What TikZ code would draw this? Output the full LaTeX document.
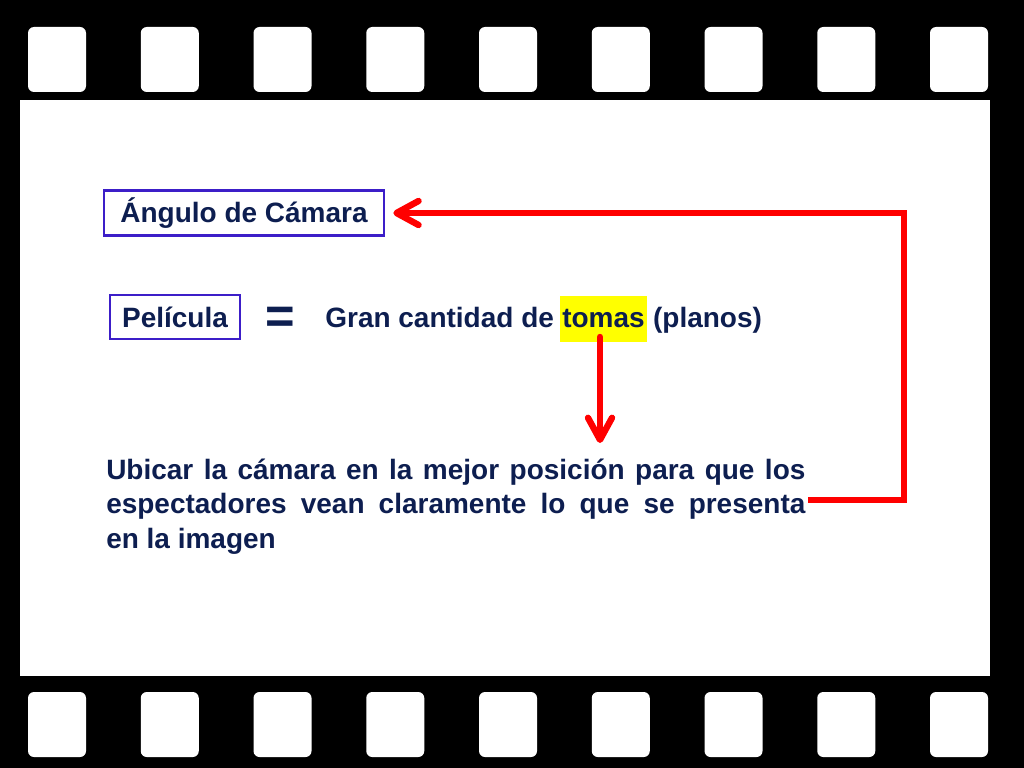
\documentclass[tikz,border=0pt]{standalone}
\usepackage{fontspec}
\setmainfont{Liberation Sans}
\usetikzlibrary{arrows.meta}

\definecolor{filmnavy}{RGB}{13,30,80}
\definecolor{boxblue}{RGB}{60,30,200}
\definecolor{markyellow}{RGB}{255,255,0}
\definecolor{arrowred}{RGB}{255,0,0}

\tikzset{
  slidefont/.style={font=\bfseries\fontsize{19.9}{24.8}\selectfont},
  labelbox/.style={draw=boxblue, line width=0.065cm, text=filmnavy, slidefont, inner sep=0pt},
  plaintext/.style={text=filmnavy, slidefont, inner sep=0pt},
  redarrow/.style={draw=arrowred, line width=0.16cm, line cap=round,
    -{Straight Barb[length=0.55cm, width=0.6cm, round, line width=0.16cm]}},
  hole/.style={fill=white, rounded corners=0.15cm},
}

\begin{document}
\begin{tikzpicture}[x=0.025cm, y=-0.025cm]

% Film strip background
\fill[black] (0,0) rectangle (1024,768);
\fill[white] (20,100) rectangle (990,676);

% Sprocket holes, top row
\fill[hole] (28.00,27) rectangle (86.00,92);
\fill[hole] (140.75,27) rectangle (198.75,92);
\fill[hole] (253.50,27) rectangle (311.50,92);
\fill[hole] (366.25,27) rectangle (424.25,92);
\fill[hole] (479.00,27) rectangle (537.00,92);
\fill[hole] (591.75,27) rectangle (649.75,92);
\fill[hole] (704.50,27) rectangle (762.50,92);
\fill[hole] (817.25,27) rectangle (875.25,92);
\fill[hole] (930.00,27) rectangle (988.00,92);

% Sprocket holes, bottom row
\fill[hole] (28.00,692) rectangle (86.00,757);
\fill[hole] (140.75,692) rectangle (198.75,757);
\fill[hole] (253.50,692) rectangle (311.50,757);
\fill[hole] (366.25,692) rectangle (424.25,757);
\fill[hole] (479.00,692) rectangle (537.00,757);
\fill[hole] (591.75,692) rectangle (649.75,757);
\fill[hole] (704.50,692) rectangle (762.50,757);
\fill[hole] (817.25,692) rectangle (875.25,757);
\fill[hole] (930.00,692) rectangle (988.00,757);

% Boxed labels
\node[labelbox, minimum width=7.0cm, minimum height=1.125cm] (angulo) at (244,213) {Ángulo de Cámara};
\node[labelbox, minimum width=3.25cm, minimum height=1.1cm] (pelicula) at (175,317) {Película};

% Equal sign
\node[text=filmnavy, font=\bfseries\fontsize{36}{36}\selectfont, inner sep=0pt] (equal) at (280.5,320.5) {=};

% Gran cantidad de tomas (planos)
\node[plaintext, fill=markyellow, inner xsep=0.05cm, minimum height=1.15cm] (tomas) at (603.5,319) {tomas};
\node[plaintext, anchor=base east] (gran) at ([xshift=-0.145cm]tomas.base west) {Gran cantidad de};
\node[plaintext, anchor=base west] (planos) at ([xshift=0.145cm]tomas.base east) {(planos)};

% Body text
\node[plaintext, anchor=base west, text width=17.475cm, align=justify] (ubicar) at (106,479)
  {Ubicar la cámara en la mejor posición para que los\linebreak
   espectadores vean claramente lo que se presenta\linebreak
   en la imagen};

% Connectors
\coordinate (tomasfoot) at (600,337);
\coordinate (ubicartop) at (600,443);
\coordinate (presenta) at (808,500);
\coordinate (rightbottom) at (904,500);
\coordinate (righttop) at (904,213);

\draw[redarrow] (tomasfoot) -- (ubicartop);
\draw[redarrow, line cap=butt, shorten >=0.2cm] (presenta) -- (rightbottom) -- (righttop) -- (angulo.east);

\end{tikzpicture}
\end{document}
